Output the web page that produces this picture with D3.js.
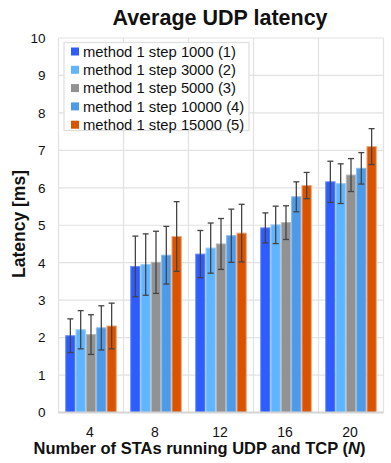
<!DOCTYPE html>
<html lang="en">
<head>
<meta charset="UTF-8">
<title>Average UDP latency</title>
<script src="https://d3js.org/d3.v7.min.js"></script>
<style>
  body { margin: 0; background: #fff; }
  text { font-family: "Liberation Sans", Arial, sans-serif; fill: #111; }
</style>
</head>
<body>
<div id="chart"></div>
<script>
// data
const categories = ["4", "8", "12", "16", "20"];
const seriesNames = [
  "method 1 step 1000 (1)",
  "method 1 step 3000 (2)",
  "method 1 step 5000 (3)",
  "method 1 step 10000 (4)",
  "method 1 step 15000 (5)"
];
const step1000  = [2.05, 3.90, 4.23, 4.93, 6.16];
const step3000  = [2.21, 3.95, 4.39, 5.01, 6.11];
const step5000  = [2.08, 4.01, 4.50, 5.07, 6.34];
const step10000 = [2.26, 4.20, 4.72, 5.76, 6.52];
const step15000 = [2.31, 4.70, 4.79, 6.06, 7.10];
const err1000  = [0.45, 0.81, 0.63, 0.40, 0.55];
const err3000  = [0.51, 0.82, 0.67, 0.50, 0.53];
const err5000  = [0.53, 0.83, 0.68, 0.45, 0.44];
const err10000 = [0.59, 0.77, 0.71, 0.40, 0.42];
const err15000 = [0.61, 0.93, 0.77, 0.35, 0.48];
const yTicks = [0, 1, 2, 3, 4, 5, 6, 7, 8, 9, 10];

const values = [step1000, step3000, step5000, step10000, step15000];
const errors = [err1000, err3000, err5000, err10000, err15000];
const colors = ["#2f5cfc", "#5fb5ff", "#929292", "#4d9be8", "#d95300"];
const strokes = ["#6a8cff", "#95ceff", "#b5b5b5", "#84b9f0", "#f2a77c"];

const width = 391, height = 463;
const margin = { top: 38, right: 7.5, bottom: 50.5, left: 58.5 };
const iw = width - margin.left - margin.right;
const ih = height - margin.top - margin.bottom;

const svg = d3.select("#chart").append("svg")
  .attr("width", width)
  .attr("height", height);

const g = svg.append("g")
  .attr("transform", `translate(${margin.left},${margin.top})`);

const x = d3.scaleBand().domain(categories).range([0, iw]);
const xs = d3.scaleBand().domain(d3.range(seriesNames.length))
  .range([0, x.bandwidth()]).paddingOuter(0.65);
const y = d3.scaleLinear().domain([0, 10]).range([ih, 0]);

// grid
g.selectAll(".hgrid").data(yTicks).enter().append("line")
  .attr("x1", 0).attr("x2", iw)
  .attr("y1", d => y(d)).attr("y2", d => y(d))
  .attr("stroke", "#e2e2e2").attr("stroke-width", 1.2);
g.selectAll(".vgrid").data(d3.range(categories.length + 1)).enter().append("line")
  .attr("x1", d => d * x.step()).attr("x2", d => d * x.step())
  .attr("y1", 0).attr("y2", ih)
  .attr("stroke", "#e2e2e2").attr("stroke-width", 1.2);

// bars
const groups = g.selectAll(".grp").data(categories).enter().append("g")
  .attr("transform", d => `translate(${x(d)},0)`);

groups.each(function (cat, ci) {
  const gg = d3.select(this);
  values.forEach((vals, si) => {
    gg.append("rect")
      .attr("x", xs(si) + 0.5)
      .attr("y", y(vals[ci]))
      .attr("width", xs.bandwidth() - 1)
      .attr("height", ih - y(vals[ci]))
      .attr("fill", colors[si])
      .attr("stroke", strokes[si])
      .attr("stroke-width", 1);
  });
  values.forEach((vals, si) => {
    const cx = xs(si) + xs.bandwidth() / 2;
    const top = y(vals[ci] + errors[si][ci]);
    const bot = y(vals[ci] - errors[si][ci]);
    gg.append("line").attr("x1", cx).attr("x2", cx).attr("y1", top).attr("y2", bot)
      .attr("stroke", "#444").attr("stroke-width", 1.3);
    [top, bot].forEach(yy => {
      gg.append("line").attr("x1", cx - 3).attr("x2", cx + 3).attr("y1", yy).attr("y2", yy)
        .attr("stroke", "#444").attr("stroke-width", 1.3);
    });
  });
});

// baseline
g.append("line").attr("x1", 0).attr("x2", iw).attr("y1", ih).attr("y2", ih)
  .attr("stroke", "#d4d4d4").attr("stroke-width", 2);

// y axis labels
g.selectAll(".ytick").data(yTicks).enter().append("text")
  .attr("x", -13).attr("y", d => y(d))
  .attr("dy", "0.36em")
  .attr("text-anchor", "end")
  .style("font-size", "13.5px")
  .text(d => d);

// x axis labels
g.selectAll(".xtick").data(categories).enter().append("text")
  .attr("x", d => x(d) + x.bandwidth() / 2 - 1)
  .attr("y", ih + 24)
  .attr("text-anchor", "middle")
  .style("font-size", "14px")
  .text(d => d);

// titles
svg.append("text")
  .attr("x", 220).attr("y", 25)
  .attr("text-anchor", "middle")
  .style("font-size", "21.5px").style("font-weight", "bold")
  .text("Average UDP latency");

const xt = svg.append("text")
  .attr("x", 199.5).attr("y", 454)
  .attr("text-anchor", "middle")
  .style("font-size", "16.5px").style("font-weight", "bold");
xt.append("tspan").text("Number of STAs running UDP and TCP (");
xt.append("tspan").style("font-style", "italic").text("N");
xt.append("tspan").text(")");

svg.append("text")
  .attr("transform", "translate(25,224) rotate(-90)")
  .attr("text-anchor", "middle")
  .style("font-size", "17.5px").style("font-weight", "bold")
  .text("Latency [ms]");

// legend
const lg = svg.append("g").attr("transform", "translate(64,42.5)");
lg.append("rect").attr("width", 185).attr("height", 88)
  .attr("fill", "#fff").attr("stroke", "#dedede").attr("stroke-width", 1.2);
seriesNames.forEach((name, i) => {
  const row = lg.append("g").attr("transform", `translate(7,${9 + i * 18.3})`);
  row.append("rect").attr("x", 0).attr("y", -4).attr("width", 8).attr("height", 8)
    .attr("fill", colors[i]);
  row.append("text").attr("x", 12).attr("y", 0).attr("dy", "0.36em")
    .style("font-size", "14.8px")
    .text(name);
});
</script>
</body>
</html>
